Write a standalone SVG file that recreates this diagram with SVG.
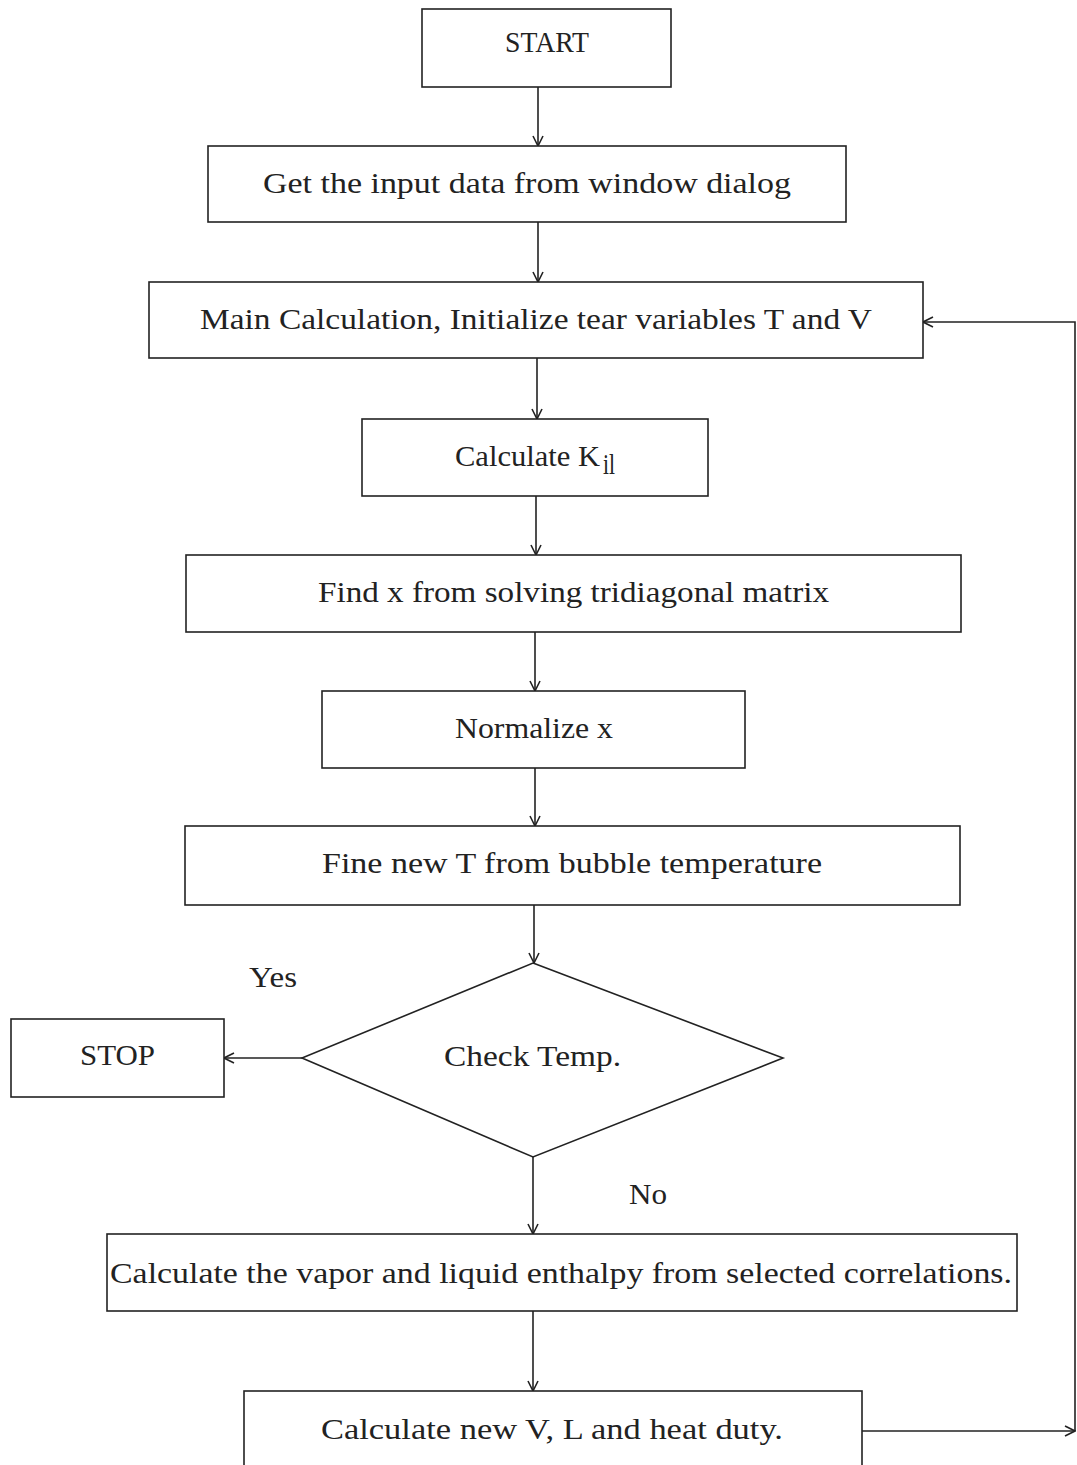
<svg xmlns="http://www.w3.org/2000/svg" width="1077" height="1465" viewBox="0 0 1077 1465">
<defs>
<marker id="ah" viewBox="0 0 12 12" refX="11" refY="6" markerWidth="12" markerHeight="12" markerUnits="userSpaceOnUse" orient="auto">
<path d="M1,1 L11,6 L1,11" fill="none" stroke="#222" stroke-width="1.6"/>
</marker>
<style>
.box{fill:#fff;stroke:#222;stroke-width:1.6}
.t{font-family:"Liberation Serif","DejaVu Serif",serif;font-size:30px;fill:#222}
.c{fill:none;stroke:#222;stroke-width:1.6;marker-end:url(#ah)}
</style>
</defs>
<rect width="1077" height="1465" fill="#fff"/>
<g id="connectors">
<line class="c" x1="538" y1="87" x2="538" y2="146"/>
<line class="c" x1="538" y1="222" x2="538" y2="282"/>
<line class="c" x1="537" y1="358" x2="537" y2="419"/>
<line class="c" x1="536" y1="496" x2="536" y2="555"/>
<line class="c" x1="535" y1="632" x2="535" y2="691"/>
<line class="c" x1="535" y1="768" x2="535" y2="826"/>
<line class="c" x1="534" y1="905" x2="534" y2="963"/>
<line class="c" x1="302" y1="1058" x2="224" y2="1058"/>
<line class="c" x1="533" y1="1157" x2="533" y2="1234"/>
<line class="c" x1="533" y1="1311" x2="533" y2="1391"/>
<line class="c" x1="862" y1="1431" x2="1075" y2="1431"/>
<path class="c" d="M1075,1431 L1075,322 L923,322"/>
</g>
<g id="start"><rect class="box" x="422" y="9" width="249" height="78"/><text class="t" x="505" y="52" textLength="84" lengthAdjust="spacingAndGlyphs">START</text></g>
<g id="input"><rect class="box" x="208" y="146" width="638" height="76"/><text class="t" x="263" y="193" textLength="528" lengthAdjust="spacingAndGlyphs">Get the input data from window dialog</text></g>
<g id="main"><rect class="box" x="149" y="282" width="774" height="76"/><text class="t" x="200" y="329" textLength="672" lengthAdjust="spacingAndGlyphs">Main Calculation, Initialize tear variables T and V</text></g>
<g id="kil"><rect class="box" x="362" y="419" width="346" height="77"/><text class="t" x="455" y="466" textLength="145" lengthAdjust="spacingAndGlyphs">Calculate K</text><text class="t" x="603" y="474" font-size="16" textLength="12" lengthAdjust="spacingAndGlyphs">il</text></g>
<g id="findx"><rect class="box" x="186" y="555" width="775" height="77"/><text class="t" x="318" y="602" textLength="511" lengthAdjust="spacingAndGlyphs">Find x from solving tridiagonal matrix</text></g>
<g id="normalize"><rect class="box" x="322" y="691" width="423" height="77"/><text class="t" x="455" y="738" textLength="158" lengthAdjust="spacingAndGlyphs">Normalize x</text></g>
<g id="finet"><rect class="box" x="185" y="826" width="775" height="79"/><text class="t" x="322" y="873" textLength="500" lengthAdjust="spacingAndGlyphs">Fine new T from bubble temperature</text></g>
<g id="check"><polygon class="box" points="533,963 783,1058 533,1157 302,1058"/><text class="t" x="444" y="1066" textLength="177" lengthAdjust="spacingAndGlyphs">Check Temp.</text></g>
<g id="yes"><text class="t" x="249" y="987" textLength="48" lengthAdjust="spacingAndGlyphs">Yes</text></g>
<g id="no"><text class="t" x="629" y="1204" textLength="38" lengthAdjust="spacingAndGlyphs">No</text></g>
<g id="stop"><rect class="box" x="11" y="1019" width="213" height="78"/><text class="t" x="80" y="1065" textLength="75" lengthAdjust="spacingAndGlyphs">STOP</text></g>
<g id="enthalpy"><rect class="box" x="107" y="1234" width="910" height="77"/><text class="t" x="110" y="1283" textLength="902" lengthAdjust="spacingAndGlyphs">Calculate the vapor and liquid enthalpy from selected correlations.</text></g>
<g id="newv"><rect class="box" x="244" y="1391" width="618" height="90"/><text class="t" x="321" y="1439" textLength="462" lengthAdjust="spacingAndGlyphs">Calculate new V, L and heat duty.</text></g>
</svg>
